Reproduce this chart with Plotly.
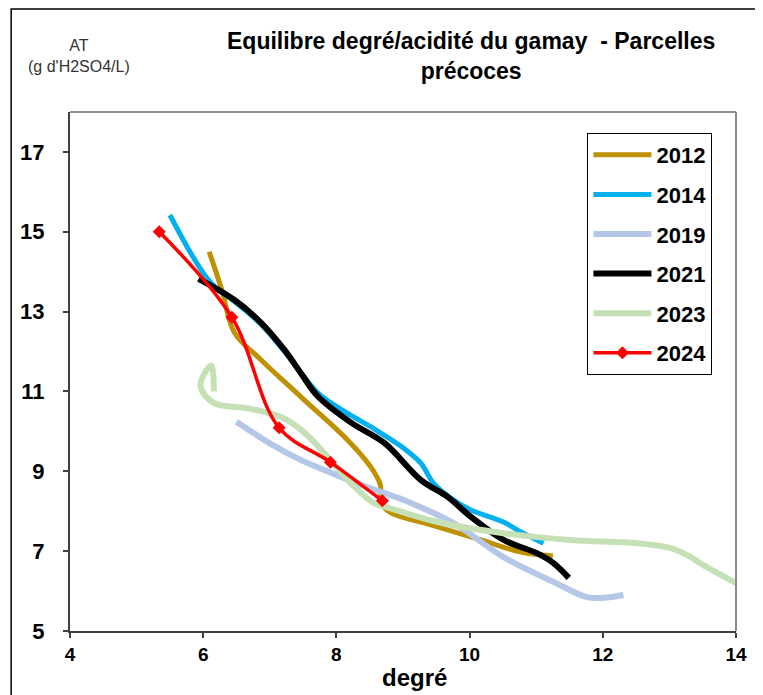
import plotly.graph_objects as go

# ---- data ----
x_2012 = [6.09, 6.28, 6.47, 6.87, 7.47, 8.17, 8.52, 8.66, 8.67, 8.82, 9.42, 10.17, 10.77, 11.25]
y_2012 = [14.5, 13.54, 12.47, 11.79, 10.86, 9.78, 9.1, 8.66, 8.2, 7.96, 7.66, 7.28, 6.98, 6.88]

x_2014 = [5.5, 6.1, 6.47, 6.87, 7.22, 7.5, 7.75, 8.17, 8.52, 9.01, 9.27, 9.46, 9.76, 10.02, 10.51, 10.77, 11.11]
y_2014 = [15.42, 13.75, 13.25, 12.68, 12.0, 11.4, 10.92, 10.45, 10.11, 9.58, 9.2, 8.7, 8.28, 8.03, 7.73, 7.48, 7.2]

x_2019 = [6.5, 7.0, 7.47, 7.97, 8.47, 9.01, 9.76, 10.51, 11.26, 11.76, 12.01, 12.31]
y_2019 = [10.24, 9.7, 9.28, 8.93, 8.6, 8.28, 7.7, 6.85, 6.23, 5.85, 5.83, 5.9]

x_2021 = [5.93, 6.47, 6.87, 7.22, 7.47, 7.72, 8.22, 8.72, 9.27, 9.67, 10.02, 10.51, 11.01, 11.26, 11.49]
y_2021 = [13.82, 13.29, 12.72, 12.04, 11.45, 10.88, 10.22, 9.71, 8.78, 8.36, 7.86, 7.28, 6.95, 6.7, 6.33]

x_2023 = [6.16, 6.12, 5.96, 6.15, 6.7, 7.17, 7.5, 7.87, 8.17, 8.57, 8.8, 9.52, 10.51, 11.51, 12.51, 13.01, 13.27, 13.51, 14.0]
y_2023 = [11.0, 11.65, 11.15, 10.72, 10.57, 10.36, 10.0, 9.36, 8.78, 8.2, 8.08, 7.73, 7.45, 7.28, 7.2, 7.08, 6.9, 6.65, 6.2]

x_2024 = [5.34, 6.43, 7.14, 7.91, 8.69]
y_2024 = [15.0, 12.86, 10.09, 9.23, 8.26]

series = [
    ("2012", x_2012, y_2012, "#BF9000", 5, False),
    ("2014", x_2014, y_2014, "#00B0F0", 5, False),
    ("2019", x_2019, y_2019, "#B4C7E7", 6, False),
    ("2021", x_2021, y_2021, "#000000", 6, False),
    ("2023", x_2023, y_2023, "#C5E0B4", 6, False),
    ("2024", x_2024, y_2024, "#FF0000", 3.5, True),
]

x_ticks = [4, 6, 8, 10, 12, 14]
y_ticks = [5, 7, 9, 11, 13, 15, 17]

FONT = "Liberation Sans, Arial, sans-serif"

fig = go.Figure()
for name, xs, ys, col, w, mk in series:
    fig.add_trace(go.Scatter(
        x=xs, y=ys, name=name,
        mode="lines+markers" if mk else "lines",
        line=dict(color=col, width=w, shape="spline", smoothing=1.0),
        marker=dict(symbol="diamond", size=10, color=col) if mk else None,
        legendgroup=name,
    ))

# the page adds an 8px body margin; figure is placed at (8, 8)
W, H = 763, 695
OFF = 8
PL, PR, PT, PB = 68, 736, 112, 631          # plot area in page pixels
L, T = PL - OFF, PT - OFF
R, B = W - (PR - OFF), H - (PB - OFF)
pw, ph = PR - PL, PB - PT

def px_x(p):
    return (p - PL) / pw

def px_y(p):
    return (PB - p) / ph

fig.update_layout(
    width=W, height=H,
    margin=dict(l=L, r=R, t=T, b=B),
    paper_bgcolor="white", plot_bgcolor="white",
    font=dict(family=FONT, color="black"),
    showlegend=True,
    legend=dict(
        x=px_x(587), y=px_y(133), xanchor="left", yanchor="top",
        bgcolor="white", bordercolor="black", borderwidth=1,
        font=dict(family=FONT, size=22, color="black", weight="bold"),
        tracegroupgap=8, traceorder="grouped",
        itemwidth=58,
    ),
    xaxis=dict(
        range=[4, 14], tickvals=x_ticks, ticktext=[str(v) for v in x_ticks],
        showgrid=False, zeroline=False,
        showline=True, linecolor="#404040", linewidth=2,
        ticks="outside", ticklen=5, tickcolor="#404040", tickwidth=1.5,
        tickfont=dict(family=FONT, size=19, weight="bold"),
        ticklabelstandoff=0,
    ),
    yaxis=dict(
        range=[5, 18], tickvals=y_ticks, ticktext=[str(v) for v in y_ticks],
        showgrid=False, zeroline=False,
        showline=True, linecolor="#404040", linewidth=2,
        ticks="outside", ticklen=5, tickcolor="#404040", tickwidth=1.5,
        tickfont=dict(family=FONT, size=22, weight="bold"),
        ticklabelstandoff=14,
    ),
)

# plot-area border (top and right) and outer chart frame
fig.add_shape(type="line", xref="paper", yref="paper", x0=0, x1=1, y0=1, y1=1,
              line=dict(color="#8c8c8c", width=2))
fig.add_shape(type="line", xref="paper", yref="paper", x0=1, x1=1, y0=0, y1=1,
              line=dict(color="#8c8c8c", width=2))
fig.add_shape(type="rect", xref="paper", yref="paper",
              x0=px_x(9), x1=px_x(800), y0=px_y(800), y1=px_y(9),
              line=dict(color="black", width=1.5), fillcolor="rgba(0,0,0,0)")

# title
fig.add_annotation(text="Equilibre degré/acidité du gamay  - Parcelles<br>précoces",
                   xref="paper", yref="paper", x=px_x(470), y=px_y(56),
                   xanchor="center", yanchor="middle", showarrow=False,
                   font=dict(family=FONT, size=23, weight="bold", color="black"))
# y-axis title
fig.add_annotation(text="AT<br>(g d'H2SO4/L)",
                   xref="paper", yref="paper", x=px_x(77), y=px_y(56),
                   xanchor="center", yanchor="middle", showarrow=False,
                   font=dict(family=FONT, size=16, color="#333333"))
# x-axis title
fig.add_annotation(text="degré",
                   xref="paper", yref="paper", x=px_x(414), y=px_y(677),
                   xanchor="center", yanchor="middle", showarrow=False,
                   font=dict(family=FONT, size=24, weight="bold", color="black"))

fig.write_html("out.html")
